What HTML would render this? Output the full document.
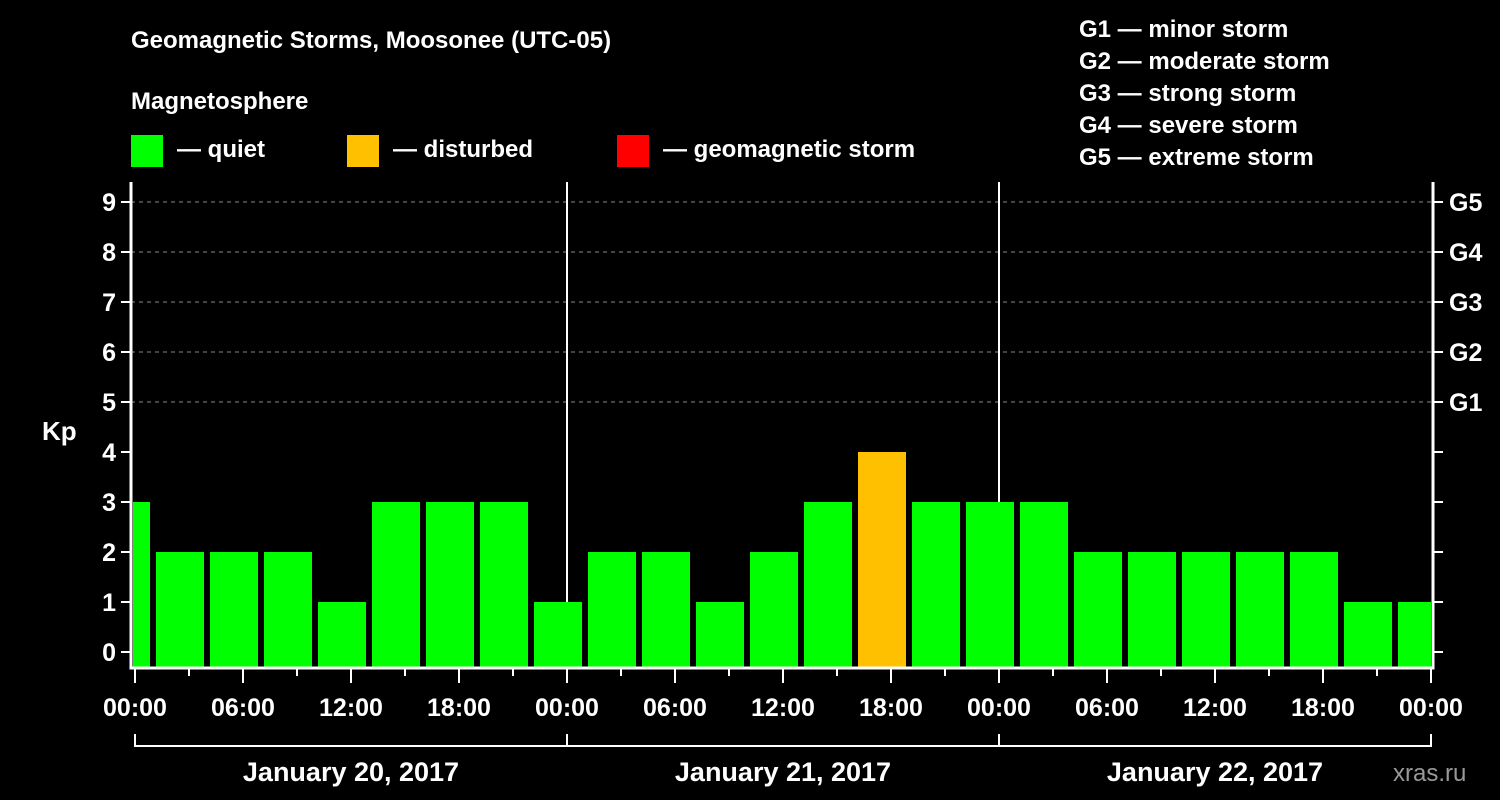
<!DOCTYPE html>
<html><head><meta charset="utf-8"><style>
html,body{margin:0;padding:0;background:#000;}
svg{display:block;font-family:"Liberation Sans",Arial,sans-serif;font-weight:bold;}
</style></head><body>
<svg id="chart" width="1500" height="800" viewBox="0 0 1500 800">
<rect width="1500" height="800" fill="#000"/>
<text x="131" y="48" fill="#fff" font-size="24">Geomagnetic Storms, Moosonee (UTC-05)</text>
<text x="131" y="109" fill="#fff" font-size="24">Magnetosphere</text>
<g>
<rect x="131" y="135" width="32" height="32" fill="#00ff00"/>
<text x="177" y="157" fill="#fff" font-size="24">— quiet</text>
<rect x="347" y="135" width="32" height="32" fill="#ffc000"/>
<text x="393" y="157" fill="#fff" font-size="24">— disturbed</text>
<rect x="617" y="135" width="32" height="32" fill="#ff0000"/>
<text x="663" y="157" fill="#fff" font-size="24">— geomagnetic storm</text>
</g>
<g fill="#fff" font-size="24">
<text x="1079" y="37">G1 — minor storm</text>
<text x="1079" y="69">G2 — moderate storm</text>
<text x="1079" y="101">G3 — strong storm</text>
<text x="1079" y="133">G4 — severe storm</text>
<text x="1079" y="165">G5 — extreme storm</text>
</g>
<text x="42" y="440" fill="#fff" font-size="26">Kp</text>
<text x="1393" y="781" fill="#999" font-size="24" font-weight="normal">xras.ru</text>
<defs><clipPath id="plotclip"><rect x="133" y="182" width="1298" height="486"/></clipPath></defs>
<g id="grid"></g>
<g id="bars" clip-path="url(#plotclip)"></g>
<g id="axes"></g>
</svg>
<script>
const kpValues = [3,2,2,2,1,3,3,3,1,2,2,1,2,3,4,3,3,3,2,2,2,2,2,1,1];
const yTicks = [0,1,2,3,4,5,6,7,8,9];
const gLabels = ["G1","G2","G3","G4","G5"];
const xTickLabels = ["00:00","06:00","12:00","18:00","00:00","06:00","12:00","18:00","00:00","06:00","12:00","18:00","00:00"];
const dayLabels = ["January 20, 2017","January 21, 2017","January 22, 2017"];
const NS="http://www.w3.org/2000/svg";
const X0=135, PXH=18;
const xs=h=>X0+h*PXH;
const ys=v=>652-v*50;
function mk(tag,attrs,parent,txt){const e=document.createElementNS(NS,tag);for(const k in attrs)e.setAttribute(k,attrs[k]);if(txt!==undefined)e.textContent=txt;parent.appendChild(e);return e;}
const grid=document.getElementById('grid'),bars=document.getElementById('bars'),axes=document.getElementById('axes');
// dashed grid lines for 5..9
for(let v=5;v<=9;v++){const l=mk('line',{x1:131,x2:1433,y1:ys(v),y2:ys(v),stroke:'#888','stroke-dasharray':'4,4','stroke-width':1},grid);

}
// day separators
for(let d=1;d<3;d++){const l=mk('line',{x1:xs(d*24),x2:xs(d*24),y1:182,y2:668,stroke:'#fff','stroke-width':2},grid);

}
// bars
kpValues.forEach((v,i)=>{
  const start=3*i-2;
  const col=v>=5?'#ff0000':(v>=4?'#ffc000':'#00ff00');
  const r=mk('rect',{x:xs(start)+3,y:ys(v),width:3*PXH-6,height:667-ys(v),fill:col},bars);
  
  
});
// frame
const fr=mk('path',{d:'M131,182 V668 H1433 V182',fill:'none',stroke:'#fff','stroke-width':3},axes);


yTicks.forEach(v=>{
  mk('line',{x1:121,x2:131,y1:ys(v),y2:ys(v),stroke:'#fff','stroke-width':2},axes);
  mk('line',{x1:1433,x2:1443,y1:ys(v),y2:ys(v),stroke:'#fff','stroke-width':2},axes);
  const t=mk('text',{x:116,y:ys(v)+9,fill:'#fff','font-size':25,'text-anchor':'end'},axes,String(v));
  
  
});
gLabels.forEach((g,i)=>{
  const t=mk('text',{x:1449,y:ys(5+i)+9,fill:'#fff','font-size':25},axes,g);
  
  
});
for(let h=0;h<=72;h+=3){
  const major=h%6===0;
  mk('line',{x1:xs(h),x2:xs(h),y1:668,y2:major?683:676,stroke:'#fff','stroke-width':2},axes);
}
xTickLabels.forEach((s,i)=>{
  const t=mk('text',{x:xs(i*6),y:716,fill:'#fff','font-size':25,'text-anchor':'middle'},axes,s);
  
  
});
const br=mk('path',{d:'M'+xs(0)+',734 V746 H'+xs(72)+' V734',fill:'none',stroke:'#fff','stroke-width':2},axes);


for(let d=1;d<3;d++)mk('line',{x1:xs(d*24),x2:xs(d*24),y1:734,y2:746,stroke:'#fff','stroke-width':2},axes);
dayLabels.forEach((s,i)=>{
  const t=mk('text',{x:xs(i*24+12),y:781,fill:'#fff','font-size':27,'text-anchor':'middle'},axes,s);
  
  
});
</script>
</body></html>
